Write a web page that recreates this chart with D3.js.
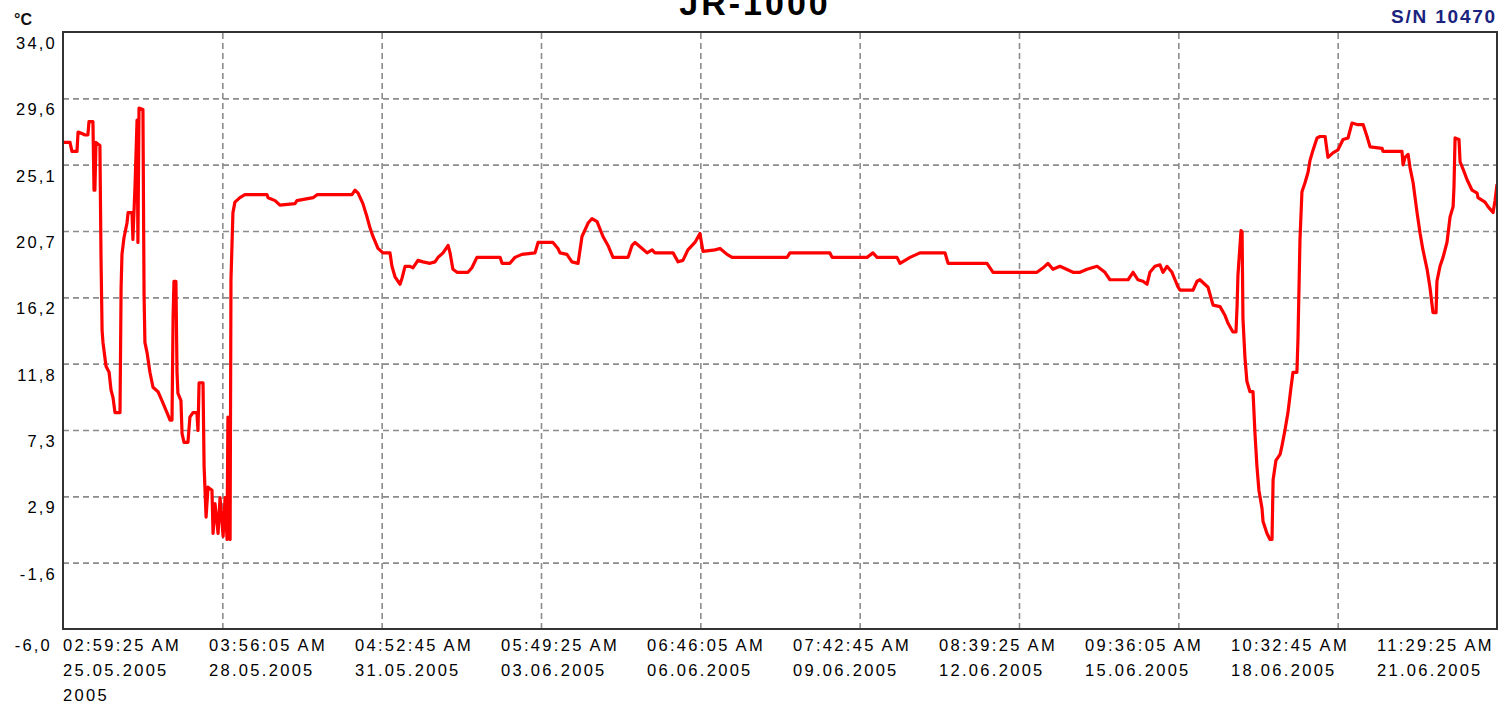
<!DOCTYPE html>
<html>
<head>
<meta charset="utf-8">
<script src="https://cdn.jsdelivr.net/npm/d3@7/dist/d3.min.js"></script>
<style>
  html, body { margin: 0; padding: 0; background: #fff; }
  svg { display: block; }
  text { font-family: "Liberation Sans", Arial, sans-serif; }
</style>
</head>
<body>
<svg id="chart" width="1509" height="706"></svg>
<script>
// ---- data ----
const title = "JR-1000";
const serial = "S/N 10470";
const unit = "\u00B0C";
const startTime = new Date(2005, 4, 25, 2, 59, 25);   // first reading
const tickStepSeconds = 3 * 86400 + 56 * 60 + 40;      // 3 days 00:56:40 between labels
const tickCount = 10;
const yMin = -6.0, yMax = 34.0;
const yTickLabels = ["-6,0", "-1,6", "2,9", "7,3", "11,8", "16,2", "20,7", "25,1", "29,6", "34,0"];

// hours elapsed since the first reading
const hours = [
  0.0, 3.2, 4.1, 6.4, 6.9, 8.7, 10.1, 11.4, 11.9, 13.7, 14.2, 14.6, 15.1, 16.9, 17.4, 17.9, 18.3, 19.7, 21.1, 22.0,
  22.9, 23.8, 26.1, 26.6, 27.0, 27.9, 29.3, 29.8, 31.6, 32.0, 33.0, 33.9, 34.3, 34.8, 36.6, 37.1, 37.5, 38.5, 39.8, 41.2,
  43.5, 45.3, 47.6, 49.0, 49.9, 50.4, 50.8, 51.7, 52.2, 52.6, 54.0, 54.5, 55.4, 57.2, 58.1, 59.5, 61.3, 61.8, 62.3, 64.1,
  64.6, 65.5, 66.4, 68.2, 68.7, 69.6, 71.0, 71.9, 73.3, 74.2, 75.1, 75.5, 76.5, 76.9, 77.8, 78.7, 81.0, 83.3, 93.4, 93.9,
  97.1, 99.3, 106.2, 107.1, 114.5, 116.3, 132.3, 133.7, 135.1, 137.3, 139.2, 140.5, 141.9, 144.2, 146.5, 149.7, 150.6, 152.0, 154.3, 155.2,
  156.6, 158.9, 160.2, 162.5, 164.8, 168.0, 170.3, 171.7, 174.0, 176.3, 177.2, 178.5, 180.4, 185.4, 187.2, 189.5, 200.1, 201.0, 204.6, 206.9,
  210.1, 216.1, 217.5, 224.3, 226.6, 227.5, 230.7, 233.0, 235.8, 237.6, 240.4, 242.2, 244.5, 247.2, 249.5, 251.8, 258.7, 260.5, 261.9, 265.1,
  267.4, 269.7, 271.0, 279.3, 281.6, 283.8, 286.1, 289.3, 291.6, 293.0, 298.5, 300.8, 304.0, 306.3, 331.5, 332.8, 351.1, 352.1, 368.1, 370.8,
  372.7, 381.8, 383.2, 385.5, 387.8, 392.3, 403.8, 405.2, 423.0, 425.8, 445.9, 448.7, 450.9, 453.2, 456.4, 462.4, 465.6, 468.8, 473.4, 477.0,
  479.3, 487.6, 489.9, 492.1, 494.4, 496.3, 497.6, 499.9, 502.2, 503.6, 505.4, 507.7, 509.1, 510.5, 511.4, 517.3, 519.2, 520.5, 524.2, 526.5,
  529.7, 532.0, 533.3, 535.6, 537.0, 537.5, 537.9, 539.3, 539.8, 540.2, 541.1, 542.0, 543.4, 544.8, 545.7, 546.6, 547.5, 548.9, 549.4, 551.2,
  552.6, 553.5, 554.0, 555.3, 557.2, 558.1, 559.4, 560.8, 562.2, 563.1, 564.9, 565.4, 566.3, 567.2, 568.6, 570.0, 570.9, 572.3, 574.1, 575.5,
  577.8, 579.1, 581.4, 583.7, 586.0, 588.3, 590.1, 592.4, 595.2, 597.0, 598.4, 603.9, 604.3, 613.0, 613.5, 614.4, 615.8, 616.7, 618.1, 619.9,
  621.3, 622.6, 624.5, 625.8, 627.2, 628.6, 629.0, 630.4, 631.8, 633.6, 635.0, 636.4, 636.8, 637.3, 639.1, 639.6, 641.0, 642.8, 645.1, 647.4,
  647.8, 651.0, 652.4, 654.7, 655.6, 656.5
];
// temperature, degrees Celsius
const temps = [
  26.6, 26.6, 26.0, 26.0, 27.3, 27.2, 27.1, 27.1, 28.0, 28.0, 23.4, 23.4, 26.6, 26.4, 18.9, 14.0, 13.2, 11.6, 11.2, 10.0,
  9.5, 8.5, 8.5, 16.9, 19.1, 20.2, 21.2, 21.9, 21.9, 20.1, 23.8, 28.1, 19.9, 28.9, 28.8, 16.5, 13.2, 12.5, 11.2, 10.2,
  9.9, 9.3, 8.5, 8.0, 8.0, 14.9, 17.3, 17.3, 11.2, 9.8, 9.3, 7.1, 6.5, 6.5, 8.2, 8.5, 8.5, 7.3, 10.5, 10.5,
  4.9, 1.5, 3.5, 3.3, 0.4, 2.4, 0.4, 2.8, 0.2, 2.8, 0.0, 8.2, 0.0, 17.4, 21.9, 22.6, 22.9, 23.1, 23.1, 22.9,
  22.7, 22.4, 22.5, 22.7, 22.9, 23.1, 23.1, 23.4, 23.2, 22.5, 21.6, 20.9, 20.3, 19.5, 19.2, 19.2, 18.3, 17.6, 17.1, 17.5,
  18.3, 18.3, 18.2, 18.7, 18.6, 18.5, 18.6, 18.9, 19.2, 19.7, 19.2, 18.1, 17.9, 17.9, 18.2, 18.9, 18.9, 18.5, 18.5, 18.9,
  19.1, 19.2, 19.9, 19.9, 19.5, 19.2, 19.1, 18.6, 18.5, 20.3, 21.2, 21.5, 21.3, 20.3, 19.7, 18.9, 18.9, 19.7, 19.9, 19.5,
  19.2, 19.4, 19.2, 19.2, 18.6, 18.7, 19.4, 19.9, 20.5, 19.3, 19.4, 19.5, 19.1, 18.9, 18.9, 19.2, 19.2, 18.9, 18.9, 19.2,
  18.9, 18.9, 18.5, 18.7, 18.9, 19.2, 19.2, 18.5, 18.5, 17.9, 17.9, 18.2, 18.5, 18.1, 18.3, 17.9, 17.9, 18.1, 18.3, 17.9,
  17.4, 17.4, 17.9, 17.4, 17.3, 17.1, 17.9, 18.3, 18.4, 17.9, 18.3, 17.9, 17.4, 16.9, 16.7, 16.7, 17.3, 17.4, 16.9, 15.7,
  15.6, 15.0, 14.5, 13.9, 13.9, 15.6, 17.7, 20.7, 20.6, 14.8, 12.2, 10.6, 9.9, 9.9, 7.1, 4.9, 3.3, 2.1, 1.2, 0.4,
  0.0, 0.0, 4.0, 5.3, 5.7, 6.3, 7.3, 8.5, 10.2, 11.2, 11.2, 13.5, 20.1, 23.3, 23.9, 24.6, 25.4, 26.1, 26.9, 27.0,
  27.0, 25.6, 25.9, 26.1, 26.8, 26.9, 27.9, 27.8, 27.8, 27.0, 26.3, 26.2, 26.0, 26.0, 25.1, 25.6, 25.8, 24.9, 23.9, 21.9,
  20.5, 19.4, 18.1, 16.9, 15.2, 15.2, 17.3, 18.3, 18.9, 19.9, 21.6, 22.3, 23.6, 26.9, 26.8, 25.3, 24.8, 24.1, 23.4, 23.2,
  22.9, 22.6, 22.3, 21.9, 22.7, 23.8
];

// ---- layout ----
const svg = d3.select("#chart");
const plotLeft = 63, plotTop = 32, plotRight = 1497, plotBottom = 629;
const plotW = plotRight - plotLeft, plotH = plotBottom - plotTop;

const data = hours.map((h, i) => ({ time: new Date(startTime.getTime() + h * 3600e3), temp: temps[i] }));
const xTicks = d3.range(tickCount).map(i => new Date(startTime.getTime() + i * tickStepSeconds * 1000));
const yTicks = d3.range(yTickLabels.length).map(i => yMin + i * (yMax - yMin) / (yTickLabels.length - 1));

const x = d3.scaleTime().domain([xTicks[0], xTicks[xTicks.length - 1]]).range([plotLeft, plotRight]);
const y = d3.scaleLinear().domain([yMin, yMax]).range([plotBottom, plotTop]);

// grid
const gx = svg.append("g").attr("transform", `translate(0,${plotBottom})`)
  .call(d3.axisBottom(x).tickValues(xTicks.slice(1, -1)).tickSize(-plotH).tickFormat(""));
const gy = svg.append("g").attr("transform", `translate(${plotLeft},0)`)
  .call(d3.axisLeft(y).tickValues(yTicks.slice(1, -1)).tickSize(-plotW).tickFormat(""));
[gx, gy].forEach(g => {
  g.select(".domain").remove();
  g.selectAll("line").attr("stroke", "#8c8c8c").attr("stroke-width", 1.6).attr("stroke-dasharray", "6,4");
});

// data line
svg.append("clipPath").attr("id", "clip").append("rect")
  .attr("x", plotLeft).attr("y", plotTop).attr("width", plotW).attr("height", plotH);
svg.append("path").datum(data)
  .attr("clip-path", "url(#clip)")
  .attr("fill", "none").attr("stroke", "#ff0000").attr("stroke-width", 3.2)
  .attr("stroke-linejoin", "round")
  .attr("d", d3.line().x(d => x(d.time)).y(d => y(d.temp)));

// frame
svg.append("rect").attr("x", plotLeft).attr("y", plotTop).attr("width", plotW).attr("height", plotH)
  .attr("fill", "none").attr("stroke", "#333").attr("stroke-width", 2);

// y labels
svg.append("g").selectAll("text").data(yTicks).join("text")
  .attr("x", (d, i) => i === 0 ? 52 : 57).attr("y", (d, i) => i === 0 ? 651 : y(d) + 17)
  .attr("text-anchor", "end").attr("font-size", 16.5).attr("letter-spacing", 2.2).attr("fill", "#000")
  .text((d, i) => yTickLabels[i]);

// x labels (evenly spread, left aligned)
const fTime = d3.timeFormat("%I:%M:%S %p");
const fDate = d3.timeFormat("%d.%m.%Y");
const labelStep = 146;
const xl = svg.append("g").attr("font-size", 16.5).attr("letter-spacing", 2.3).attr("fill", "#000");
xTicks.forEach((t, i) => {
  const tx = plotLeft + i * labelStep;
  xl.append("text").attr("x", tx).attr("y", 651).text(fTime(t));
  xl.append("text").attr("x", tx).attr("y", 676).text(fDate(t));
});
xl.append("text").attr("x", plotLeft).attr("y", 701).text(d3.timeFormat("%Y")(xTicks[0]));

// title, unit, serial
svg.append("text").attr("x", 755).attr("y", 15).attr("text-anchor", "middle")
  .attr("font-size", 34).attr("font-weight", "bold").attr("letter-spacing", 3).attr("fill", "#000").text(title);
svg.append("text").attr("x", 14).attr("y", 25).attr("font-size", 16).attr("font-weight", "bold").attr("fill", "#111").text(unit);
svg.append("text").attr("x", 1497).attr("y", 23).attr("text-anchor", "end")
  .attr("font-size", 19).attr("font-weight", "bold").attr("letter-spacing", 1.8).attr("fill", "#1a237e").text(serial);
</script>
</body>
</html>
